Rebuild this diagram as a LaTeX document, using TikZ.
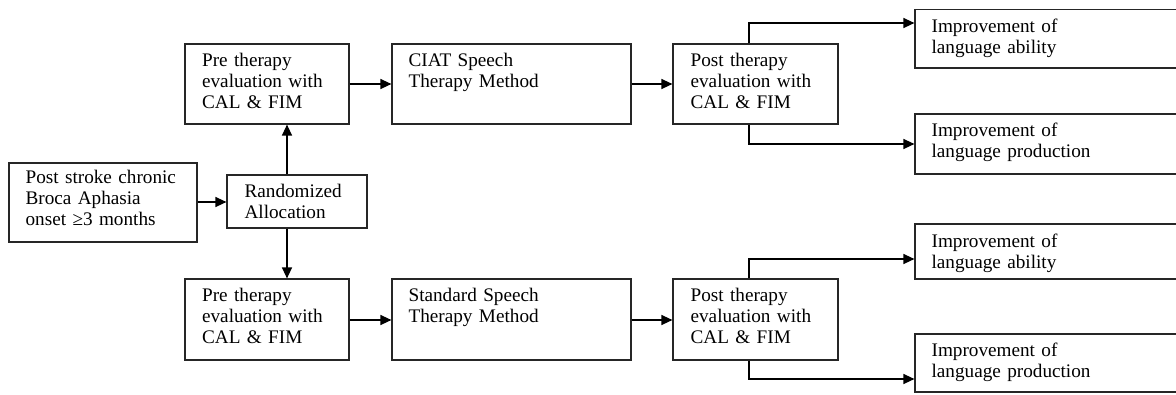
\documentclass[tikz,border=0pt]{standalone}
\usepackage{fontspec}
\setmainfont{Liberation Serif}
\usetikzlibrary{arrows.meta,calc}
\begin{document}
\begin{tikzpicture}[x=1pt,y=-1pt,
  box/.style={draw=black!85,line width=1.2pt,inner sep=0pt,rectangle},
  txt/.style={anchor=base west,inner sep=0pt,text width=260pt,align=left,
    font=\fontsize{19.2}{21}\selectfont},
  arr/.style={line width=1.4pt,-{Triangle[length=11pt,width=10pt]}}]
\useasboundingbox (0,0) rectangle (1176,394);
\clip (0,0) rectangle (1176,394);
% boxes
\node[box,minimum width=188,minimum height=79] (ps) at (103,202.5) {};
\node[box,minimum width=140,minimum height=53] (rand) at (297,201.5) {};
\node[box,minimum width=164,minimum height=80] (pre1) at (267,84) {};
\node[box,minimum width=239,minimum height=80] (ciat) at (511.5,84) {};
\node[box,minimum width=165,minimum height=80] (post1) at (755.5,84) {};
\node[box,minimum width=270,minimum height=58.5] (imp1) at (1050,38.75) {};
\node[box,minimum width=270,minimum height=60] (imp2) at (1050,144) {};
\node[box,minimum width=164,minimum height=81] (pre2) at (267,319.5) {};
\node[box,minimum width=239,minimum height=81] (std) at (511.5,319.5) {};
\node[box,minimum width=165,minimum height=81] (post2) at (755.5,319.5) {};
\node[box,minimum width=270,minimum height=55] (imp3) at (1050,251.5) {};
\node[box,minimum width=270,minimum height=58] (imp4) at (1050,363) {};
% texts
\node[txt] (tps) at ($(ps.north west)+(17,21.5)$) {Post stroke chronic\\Broca Aphasia\\onset ≥3 months};
\node[txt] (trand) at ($(rand.north west)+(18,23)$) {Randomized\\Allocation};
\node[txt] (tpre1) at ($(pre1.north west)+(17.5,23)$) {Pre therapy\\evaluation with\\CAL \& FIM};
\node[txt] (tciat) at ($(ciat.north west)+(17,23)$) {CIAT Speech\\Therapy Method};
\node[txt] (tpost1) at ($(post1.north west)+(18,23)$) {Post therapy\\evaluation with\\CAL \& FIM};
\node[txt] (timp1) at ($(imp1.north west)+(17,24)$) {Improvement of\\language ability};
\node[txt] (timp2) at ($(imp2.north west)+(17,23.5)$) {Improvement of\\language production};
\node[txt] (tpre2) at ($(pre2.north west)+(17.5,23)$) {Pre therapy\\evaluation with\\CAL \& FIM};
\node[txt] (tstd) at ($(std.north west)+(17,23)$) {Standard Speech\\Therapy Method};
\node[txt] (tpost2) at ($(post2.north west)+(18,23)$) {Post therapy\\evaluation with\\CAL \& FIM};
\node[txt] (timp3) at ($(imp3.north west)+(17,24)$) {Improvement of\\language ability};
\node[txt] (timp4) at ($(imp4.north west)+(17,23.5)$) {Improvement of\\language production};
% connectors
\coordinate (c1) at (287,0);
\draw[arr] (ps.east |- 0,202) -- (rand.west |- 0,202);
\draw[arr] (rand.north -| c1) -- (pre1.south -| c1);
\draw[arr] (rand.south -| c1) -- (pre2.north -| c1);
\draw[arr] (pre1.east) -- (ciat.west);
\draw[arr] (ciat.east) -- (post1.west);
\draw[arr] (pre2.east |- 0,320) -- (std.west |- 0,320);
\draw[arr] (std.east |- 0,320) -- (post2.west |- 0,320);
\coordinate (c2) at (749,0);
\draw[arr] (post1.north -| c2) -- (c2 |- 0,23) -- (imp1.west |- 0,23);
\draw[arr] (post1.south -| c2) -- (c2 |- imp2.west) -- (imp2.west);
\draw[arr] (post2.north -| c2) -- (c2 |- 0,259) -- (imp3.west |- 0,259);
\draw[arr] (post2.south -| c2) -- (c2 |- 0,379) -- (imp4.west |- 0,379);
\end{tikzpicture}
\end{document}
